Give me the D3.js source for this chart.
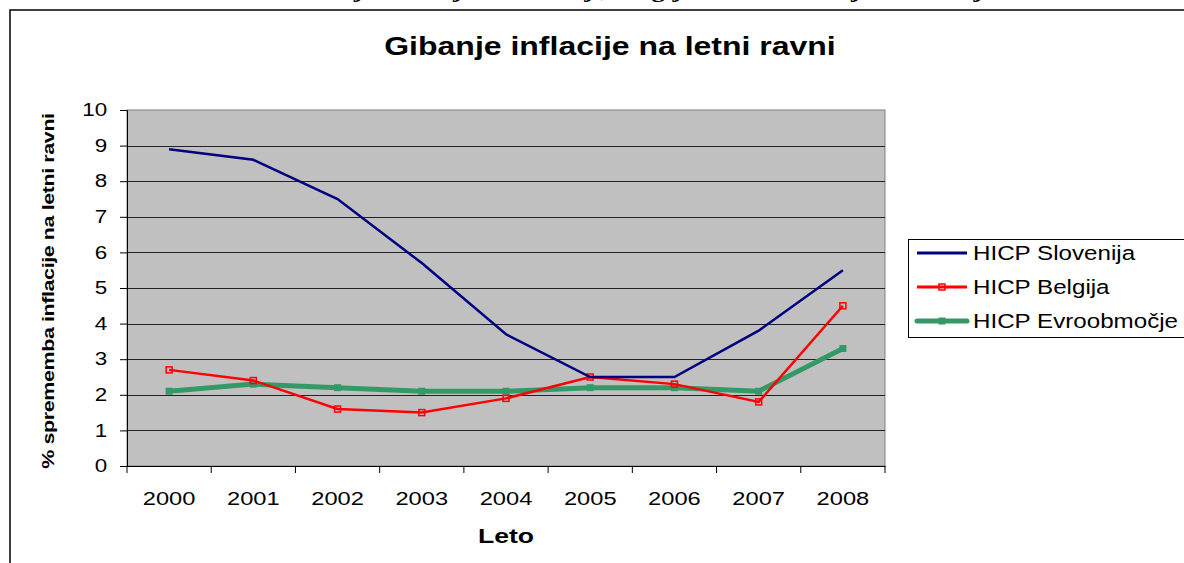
<!DOCTYPE html>
<html>
<head>
<meta charset="utf-8">
<script src="https://cdn.jsdelivr.net/npm/d3@7"></script>
<style>
  body { margin: 0; background: #fff; overflow: hidden; }
  text { font-family: "Liberation Sans", Arial, sans-serif; }
</style>
</head>
<body>
<div id="chart"></div>
<script>
// data
var years = ["2000", "2001", "2002", "2003", "2004", "2005", "2006", "2007", "2008"];
var slovenija = [8.9, 8.6, 7.5, 5.7, 3.7, 2.5, 2.5, 3.8, 5.5];
var belgija = [2.7, 2.4, 1.6, 1.5, 1.9, 2.5, 2.3, 1.8, 4.5];
var evroobmocje = [2.1, 2.3, 2.2, 2.1, 2.1, 2.2, 2.2, 2.1, 3.3];
var yTicks = [0, 1, 2, 3, 4, 5, 6, 7, 8, 9, 10];
var seriesNames = ["HICP Slovenija", "HICP Belgija", "HICP Evroobmočje"];

var margin = {top: 110, left: 127},
    width = 758,
    height = 356;

// the original picture is stretched sideways, so the text is too
var sx = 1.28;

var svg = d3.select("#chart")
  .append("svg")
    .attr("width", 1184)
    .attr("height", 563);

// caption line cut off at the top of the page
svg.append("text")
  .attr("transform", "translate(658,-3) scale(" + sx + ",1)")
  .attr("text-anchor", "middle")
  .style("font-family", "'Liberation Serif', 'Times New Roman', serif")
  .style("font-size", "21px")
  .style("font-weight", "bold")
  .text("Graf 1: Gibanje inflacije v Sloveniji, Belgiji in evroobmočju v obdobju 2000–2008");

// chart border
svg.append("rect")
  .attr("x", 11).attr("y", 11)
  .attr("width", 1200).attr("height", 600)
  .attr("fill", "none")
  .attr("stroke", "#999")
  .attr("stroke-width", 1);
svg.append("rect")
  .attr("x", 10).attr("y", 10)
  .attr("width", 1200).attr("height", 600)
  .attr("fill", "#fff")
  .attr("stroke", "#000")
  .attr("stroke-width", 1.5);

svg.append("text")
  .attr("transform", "translate(610,55) scale(" + sx + ",1)")
  .attr("text-anchor", "middle")
  .style("font-size", "25px")
  .style("font-weight", "bold")
  .text("Gibanje inflacije na letni ravni");

var x = d3.scaleBand().domain(years).range([0, width]);
var y = d3.scaleLinear().domain([0, 10]).range([height, 0]);

var g = svg.append("g")
  .attr("transform", "translate(" + margin.left + "," + margin.top + ")");

g.append("rect")
  .attr("width", width)
  .attr("height", height)
  .attr("fill", "#c0c0c0")
  .attr("stroke", "#808080");

// gridlines
g.selectAll(".grid")
  .data(yTicks.filter(function(d) { return d > 0 && d < 10; }))
  .enter().append("line")
    .attr("x1", 0).attr("x2", width)
    .attr("y1", function(d) { return Math.round(y(d)) + 0.5; })
    .attr("y2", function(d) { return Math.round(y(d)) + 0.5; })
    .attr("stroke", "#222")
    .attr("stroke-width", 1);

// y axis
var yAxis = d3.axisLeft(y).tickValues(yTicks).tickSize(7).tickPadding(8.5);
g.append("g")
  .call(yAxis)
  .call(function(s) {
    s.select(".domain").attr("stroke", "#000");
    s.selectAll(".tick line").attr("stroke", "#000");
    s.selectAll("text")
      .attr("fill", "#000")
      .attr("transform", "scale(" + sx + ",1)")
      .style("font-family", "'Liberation Sans', Arial, sans-serif")
      .style("font-size", "17.5px");
  });

// x axis: ticks at category boundaries
var xAxis = d3.axisBottom(x).tickSize(0).tickPadding(26);
g.append("g")
  .attr("transform", "translate(0," + height + ")")
  .call(xAxis)
  .call(function(s) {
    s.select(".domain").attr("stroke", "#000");
    s.selectAll("text")
      .attr("fill", "#000")
      .attr("transform", "scale(" + sx + ",1)")
      .style("font-family", "'Liberation Sans', Arial, sans-serif")
      .style("font-size", "18.5px");
  });

g.selectAll(".xtick")
  .data(years.concat(["end"]))
  .enter().append("line")
    .attr("x1", function(d, i) { return i * x.step(); })
    .attr("x2", function(d, i) { return i * x.step(); })
    .attr("y1", height)
    .attr("y2", height + 7)
    .attr("stroke", "#000");

g.append("text")
  .attr("transform", "translate(" + (506 - margin.left) + "," + (543 - margin.top) + ") scale(" + (sx + 0.05) + ",1)")
  .attr("text-anchor", "middle")
  .style("font-size", "20px")
  .style("font-weight", "bold")
  .text("Leto");

g.append("text")
  .attr("transform", "translate(-73," + (291 - margin.top) + ") rotate(-90) scale(1.3,1)")
  .attr("text-anchor", "middle")
  .style("font-size", "16.5px")
  .style("font-weight", "bold")
  .style("letter-spacing", "-0.3px")
  .text("% sprememba inflacije na letni ravni");

var line = d3.line()
  .x(function(d, i) { return x(years[i]) + x.bandwidth() / 2; })
  .y(function(d) { return y(d); });

g.append("path")
  .datum(evroobmocje)
  .attr("fill", "none")
  .attr("stroke", "#339966")
  .attr("stroke-width", 5)
  .attr("d", line);

g.selectAll(".emark")
  .data(evroobmocje)
  .enter().append("rect")
    .attr("x", function(d, i) { return x(years[i]) + x.bandwidth() / 2 - 3.5; })
    .attr("y", function(d) { return y(d) - 3.5; })
    .attr("width", 7).attr("height", 7)
    .attr("fill", "#339966");

g.append("path")
  .datum(belgija)
  .attr("fill", "none")
  .attr("stroke", "#ff0000")
  .attr("stroke-width", 2.5)
  .attr("d", line);

g.selectAll(".bmark")
  .data(belgija)
  .enter().append("rect")
    .attr("x", function(d, i) { return x(years[i]) + x.bandwidth() / 2 - 3; })
    .attr("y", function(d) { return y(d) - 3; })
    .attr("width", 6).attr("height", 6)
    .attr("fill", "none")
    .attr("stroke", "#ff0000")
    .attr("stroke-width", 1.5);

g.append("path")
  .datum(slovenija)
  .attr("fill", "none")
  .attr("stroke", "#000080")
  .attr("stroke-width", 2.5)
  .attr("d", line);

// legend
var legend = svg.append("g").attr("transform", "translate(908,239)");
legend.append("rect")
  .attr("x", 0.5).attr("y", 0.5)
  .attr("width", 300).attr("height", 98)
  .attr("fill", "#fff")
  .attr("stroke", "#000");

var colors = ["#000080", "#ff0000", "#339966"];
var widths = [3, 3, 5];
seriesNames.forEach(function(name, i) {
  var ly = 14 + i * 34;
  legend.append("line")
    .attr("x1", 9).attr("x2", 59)
    .attr("y1", ly).attr("y2", ly)
    .attr("stroke", colors[i])
    .attr("stroke-width", widths[i])
    .attr("stroke-linecap", i === 2 ? "round" : "butt");
  if (i === 1) {
    legend.append("rect")
      .attr("x", 31).attr("y", ly - 3).attr("width", 6).attr("height", 6)
      .attr("fill", "none").attr("stroke", colors[i]).attr("stroke-width", 1.5);
  }
  if (i === 2) {
    legend.append("rect")
      .attr("x", 30.5).attr("y", ly - 3.5).attr("width", 7).attr("height", 7)
      .attr("fill", colors[i]);
  }
  legend.append("text")
    .attr("transform", "translate(65," + (ly + 7) + ") scale(1.24,1)")
    .style("font-size", "19.5px")
    .text(name);
});
</script>
</body>
</html>
